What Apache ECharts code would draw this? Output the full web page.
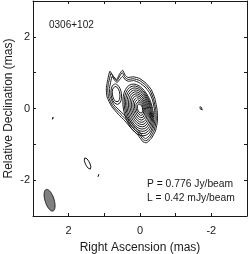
<!DOCTYPE html>
<html><head><meta charset="utf-8">
<script src="https://cdn.jsdelivr.net/npm/echarts@6/dist/echarts.min.js"></script>
<style>html,body{margin:0;padding:0;background:#fff}#c{width:249px;height:254px}</style>
</head><body><div id="c"></div>
<script>
// ---- data (mas) ----
const sourceName = '0306+102';
const peakText = 'P = 0.776 Jy/beam';
const lowText = 'L = 0.42 mJy/beam';
const axisRange = [-3, 3];
const tickLabelValues = [2, 0, -2];
const tickLabels = ['2', '0', '-2'];

// core component nested contours (ellipses): centre x, centre y, semi-major, semi-minor, tilt(deg)
const coreCx = [0, 0.005, 0.01, 0.015, 0.02, 0.025, 0.03, 0.035, 0.04, 0.045, 0.05];
const coreCy = [0, -0.004, -0.008, -0.012, -0.016, -0.02, -0.024, -0.028, -0.032, -0.036, -0.04];
const coreA  = [0.14, 0.20, 0.26, 0.32, 0.38, 0.44, 0.50, 0.56, 0.62, 0.68, 0.74];
const coreB  = [0.07, 0.10, 0.135, 0.17, 0.205, 0.24, 0.275, 0.31, 0.34, 0.37, 0.40];
const coreTilt = 15;

// north-east component contours
const neCx = [0.67, 0.665];
const neCy = [0.40, 0.40];
const neA  = [0.22, 0.29];
const neB  = [0.105, 0.145];
const neTilt = 8;

// outer merged contours (polylines)
const outer1 = [[0.925,0.698],[0.843,1.042],[0.75,0.902],[0.657,0.809],[0.565,0.977],[0.491,1.07],[0.417,0.93],[0.333,0.865],[0.194,0.884],[0.009,0.837],[-0.176,0.698],[-0.315,0.53],[-0.417,0.279],[-0.481,-0.047],[-0.491,-0.326],[-0.435,-0.623],[-0.315,-0.837],[-0.176,-0.958],[-0.083,-0.93],[0.056,-0.744],[0.241,-0.558],[0.426,-0.344],[0.611,-0.158],[0.80,0.065],[0.925,0.326],[0.945,0.558],[0.925,0.698]];
const outer2 = [[0.89,0.68],[0.81,0.98],[0.72,0.84],[0.65,0.77],[0.57,0.90],[0.50,1.00],[0.42,0.87],[0.33,0.81],[0.19,0.83],[0.01,0.78],[-0.16,0.65],[-0.29,0.49],[-0.38,0.26],[-0.445,-0.05],[-0.455,-0.32],[-0.40,-0.60],[-0.29,-0.80],[-0.17,-0.90],[-0.09,-0.87],[0.05,-0.68],[0.23,-0.50],[0.41,-0.29],[0.59,-0.11],[0.77,0.08],[0.885,0.33],[0.905,0.55],[0.89,0.68]];
const outer3 = [[0.86,0.55],[0.78,0.90],[0.71,0.78],[0.64,0.73],[0.56,0.82],[0.49,0.90],[0.41,0.80],[0.32,0.76],[0.18,0.78],[0.02,0.72],[-0.14,0.60],[-0.26,0.45],[-0.35,0.24],[-0.41,-0.05],[-0.42,-0.30],[-0.37,-0.56],[-0.27,-0.75],[-0.16,-0.84],[-0.09,-0.80],[0.04,-0.62],[0.21,-0.44],[0.38,-0.24],[0.56,-0.07],[0.73,0.10],[0.84,0.33],[0.86,0.55]];

// isolated features: centre x, centre y, semi-major, semi-minor, tilt
const blobCx = [1.47, 2.44, 1.15, -1.71];
const blobCy = [-1.535, -0.28, -1.89, 0.0];
const blobA  = [0.175, 0.04, 0.05, 0.06];
const blobB  = [0.06, 0.015, 0.025, 0.025];
const blobTilt = [26, 0, 10, 25];

// restoring beam
const beam = {cx: 2.535, cy: -2.56, a: 0.315, b: 0.126, tilt: 17.5};

// ---- helpers ----
function ellipse(cx, cy, a, b, tiltDeg) {
  const p = tiltDeg * Math.PI / 180, pts = [];
  const ux = Math.sin(p), uy = Math.cos(p), vx = Math.cos(p), vy = -Math.sin(p);
  for (let i = 0; i <= 72; i++) {
    const t = i / 72 * 2 * Math.PI;
    pts.push([cx + a * Math.cos(t) * ux + b * Math.sin(t) * vx,
              cy + a * Math.cos(t) * uy + b * Math.sin(t) * vy]);
  }
  return pts;
}
const contours = [];
for (let i = 0; i < coreA.length; i++) contours.push(ellipse(coreCx[i], coreCy[i], coreA[i], coreB[i], coreTilt));
for (let i = 0; i < neA.length; i++) contours.push(ellipse(neCx[i], neCy[i], neA[i], neB[i], neTilt));
for (let i = 0; i < blobA.length; i++) contours.push(ellipse(blobCx[i], blobCy[i], blobA[i], blobB[i], blobTilt[i]));
const outerSet = [outer1, outer2, outer3];

const ink = '#1a1a1a';
const series = contours.map(d => ({
  type: 'line', data: d, showSymbol: false, symbol: 'none', silent: true,
  lineStyle: {color: ink, width: 1}, animation: false, z: 3
}));
outerSet.forEach(d => series.push({
  type: 'line', data: d, showSymbol: false, symbol: 'none', silent: true, smooth: 0.15,
  lineStyle: {color: ink, width: 1}, animation: false, z: 3
}));
const beamPts = ellipse(beam.cx, beam.cy, beam.a, beam.b, beam.tilt);
series.push({
  type: 'custom', data: [[beam.cx, beam.cy]], silent: true, animation: false, z: 4,
  renderItem: (params, api) => ({
    type: 'polygon',
    shape: {points: beamPts.map(p => api.coord(p))},
    style: {fill: '#808080', stroke: ink, lineWidth: 1}
  })
});

const fam = '"Liberation Sans", Arial, Helvetica, sans-serif';
function labelFmt(v) {
  const i = tickLabelValues.indexOf(Math.round(v * 1000) / 1000);
  return i >= 0 ? tickLabels[i] : '';
}
const common = {
  type: 'value', min: axisRange[0], max: axisRange[1], interval: 1,
  axisLine: {show: true, onZero: false, lineStyle: {color: ink, width: 1}},
  axisTick: {show: true, inside: true, length: 3, lineStyle: {color: ink}},
  splitLine: {show: false}
};
const chart = echarts.init(document.getElementById('c'), null, {renderer: 'canvas'});
chart.setOption({
  animation: false,
  backgroundColor: '#fff',
  grid: {left: 33, right: 2, top: 1, bottom: 38, containLabel: false, outerBoundsMode: 'none'},
  xAxis: [
    Object.assign({}, common, {position: 'bottom', inverse: true,
      name: 'Right Ascension (mas)', nameLocation: 'middle', nameGap: 26, nameMoveOverlap: false,
      nameTextStyle: {fontFamily: fam, fontSize: 12, color: ink},
      axisLabel: {formatter: labelFmt, margin: 9, fontFamily: fam, fontSize: 11, color: ink}}),
    Object.assign({}, common, {position: 'top', inverse: true, axisLabel: {show: false}})
  ],
  yAxis: [
    Object.assign({}, common, {position: 'left',
      name: 'Relative Declination (mas)', nameLocation: 'middle', nameGap: 18, nameMoveOverlap: false,
      nameTextStyle: {fontFamily: fam, fontSize: 12, color: ink},
      axisLabel: {formatter: labelFmt, margin: 3, fontFamily: fam, fontSize: 11, color: ink}}),
    Object.assign({}, common, {position: 'right', axisLabel: {show: false}})
  ],
  graphic: [
    {type: 'text', x: 49, y: 25, style: {text: sourceName, font: '10px ' + fam, fill: ink, verticalAlign: 'middle'}},
    {type: 'text', x: 147, y: 184, style: {text: peakText, font: '10.3px ' + fam, fill: ink, verticalAlign: 'middle'}},
    {type: 'text', x: 147, y: 198, style: {text: lowText, font: '10.3px ' + fam, fill: ink, verticalAlign: 'middle'}}
  ],
  series: series
});
</script></body></html>
